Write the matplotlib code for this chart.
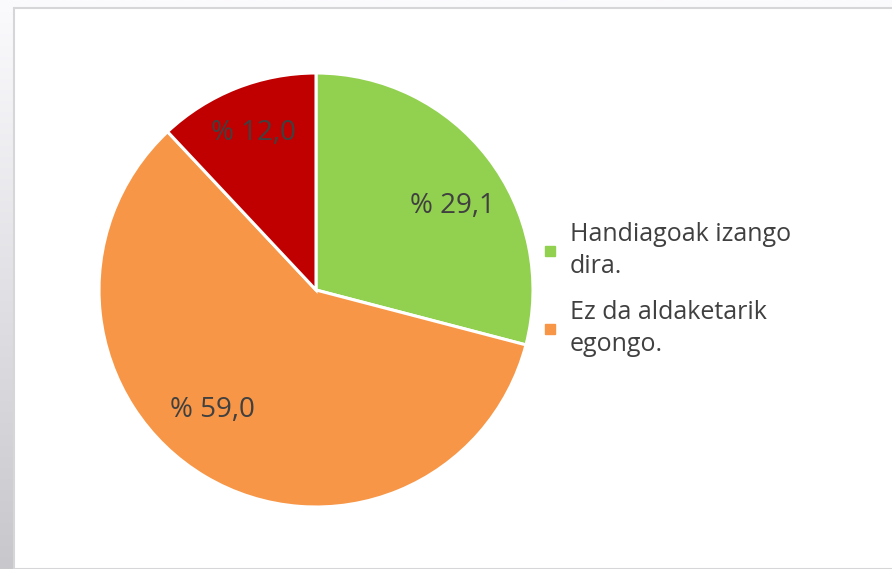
import numpy as np
import matplotlib.pyplot as plt
from matplotlib.patches import Rectangle
from matplotlib.lines import Line2D

# values
labels = ['Handiagoak izango\ndira.', 'Ez da aldaketarik\negongo.', '']
values = [29.1, 59.0, 12.0]
pct_text = ['% 29,1', '% 59,0', '% 12,0']
colors = ['#92d050', '#f79646', '#c00000']

plt.rcParams['font.family'] = ['Open Sans', 'DejaVu Sans']

W, H = 892, 569
fig = plt.figure(figsize=(W / 100, H / 100), dpi=100)
fig.patch.set_facecolor('#f8f7fb')

# left gradient strip of the screenshot frame
bg = fig.add_axes([0, 0, 1, 1], zorder=-2)
bg.set_axis_off()
grad = np.linspace(0, 1, 256).reshape(-1, 1)
bg.imshow(grad, cmap=plt.matplotlib.colors.LinearSegmentedColormap.from_list(
    'g', ['#c8c7cc', '#fbfafd']), aspect='auto', extent=[0, 1, 0, 1], origin='lower')
bg.set_xlim(0, 1)
bg.set_ylim(0, 1)
bg.add_patch(Rectangle((14 / W, 0), 1, 1 - 8 / H, facecolor='white',
                       edgecolor='#d6d6d9', linewidth=1.5))

# pie, centre ~ (316, 290) px, radius ~217 px
cx, cy, r = 316, H - 290, 217
ax = fig.add_axes([(cx - r) / W, (cy - r) / H, 2 * r / W, 2 * r / H])
wedges, _ = ax.pie(values, colors=colors, startangle=90, counterclock=False,
                   wedgeprops=dict(edgecolor='white', linewidth=2.2))
ax.set_xlim(-1, 1)
ax.set_ylim(-1, 1)
ax.set_aspect('equal')

# label distance and angle shift (deg) from wedge middle
for w, t, d, da in zip(wedges, pct_text, [0.74, 0.73, 0.78], [-6, -10, 0]):
    ang = np.deg2rad((w.theta1 + w.theta2) / 2 + da)
    ax.text(d * np.cos(ang), d * np.sin(ang), t, ha='center', va='center',
            fontsize=20, color='#404040')

handles = [Line2D([], [], marker='s', linestyle='none', markersize=7,
                  markerfacecolor=c, markeredgecolor=c) for c in colors[:2]]
leg = fig.legend(handles, labels[:2], loc='upper left',
                 bbox_to_anchor=(532 / W, 1 - 212 / H),
                 frameon=False, fontsize=18, handlelength=0.6, handletextpad=0.5,
                 labelspacing=0.85, labelcolor='#404040', borderaxespad=0)
for t in leg.get_texts():
    t.set_linespacing(1.35)

fig.savefig('out.png', dpi=100)
